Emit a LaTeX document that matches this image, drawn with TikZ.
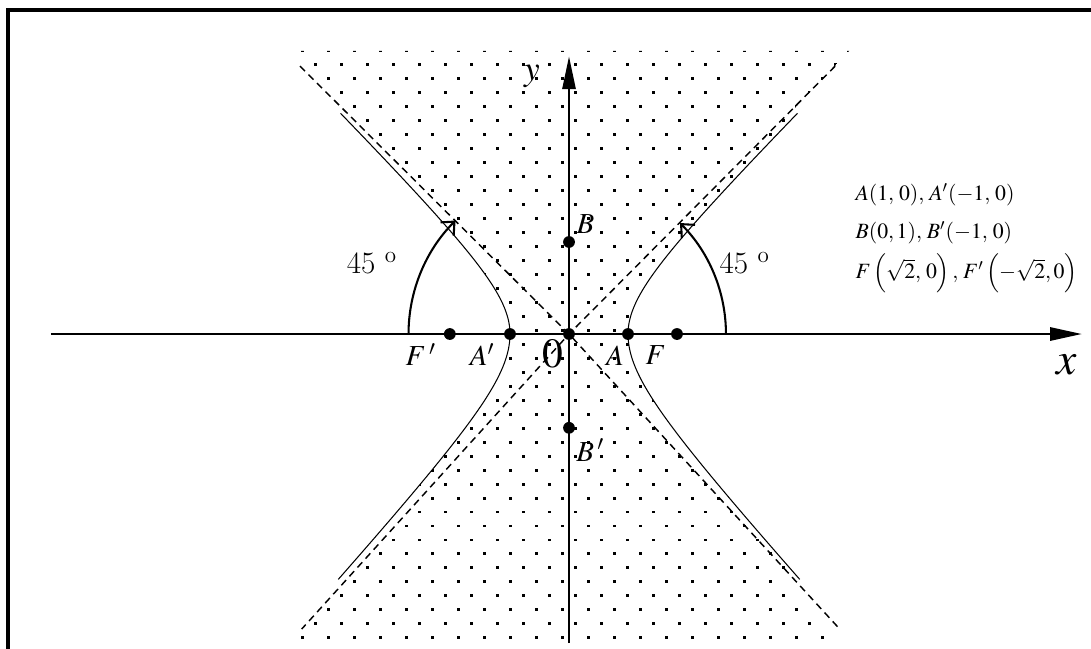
\documentclass[tikz,border=0pt]{standalone}
\usepackage{mathptmx}
\usetikzlibrary{arrows.meta}

\begin{document}
\begin{tikzpicture}[
  x=1cm,
  y=1cm,
  every node/.style={font=\fontsize{14}{16}\selectfont},
  axis/.style={line width=1.4pt, -{Triangle[length=0.54cm, width=0.22cm]}},
  asym/.style={line width=0.7pt, dash pattern=on 3.4pt off 2.4pt},
  branch/.style={line width=0.5pt},
  anglearc/.style={line width=1pt, -{Straight Barb[length=5pt, width=9pt]}},
  vertexpt/.style={circle, fill=black, inner sep=0pt, minimum size=0.2cm},
  frameline/.style={line width=2.1pt},
  coordtext/.style={anchor=west, inner sep=0pt, font=\fontsize{10.5}{12}\selectfont}
]
  \useasboundingbox (-9.644,-5.322) rectangle (8.847,5.661);

  % ---- frame, cut off at right and bottom ----
  \draw[frameline] (-9.508,-5.5) -- (-9.508,5.492) -- (9.0,5.492);

  % ---- dotted region between the branches ----
  \begin{scope}
    \clip (-4.75,4.8) -- (4.75,4.8) -- (3.75,3.75) -- (3.87,3.75)
      -- plot[domain=2.03:-2.04, samples=60, smooth] ({cosh(\x)}, {\x<0 ? 1.1*sinh(\x) : sinh(\x)})
      -- (3.78,-4.16) -- (4.72,-5.2) -- (-4.72,-5.2) -- (-3.78,-4.16)
      -- plot[domain=-2.04:2.03, samples=60, smooth] ({-cosh(\x)}, {\x<0 ? 1.1*sinh(\x) : sinh(\x)})
      -- (-3.75,3.75) -- cycle;
    \foreach \j [evaluate=\j as \yy using {-5.15+0.237*\j},
                 evaluate=\j as \xoff using {0.22*mod(\j,2)}] in {0,...,42}
      \foreach \i in {0,...,22}
        \fill ({-4.975+\xoff+0.44*\i}, {\yy-0.025}) rectangle ++(0.05,0.05);
  \end{scope}

  % ---- asymptotes ----
  \coordinate (O) at (0,0);
  \coordinate (UL) at (-4.56,4.54);
  \coordinate (UR) at (4.51,4.54);
  \coordinate (LL) at (-4.53,-5.0);
  \coordinate (LR) at (4.56,-4.97);
  \draw[asym] (UL) -- (O) -- (LR);
  \draw[asym] (UR) -- (O) -- (LL);

  % ---- hyperbola x^2-y^2=1 ----
  \draw[branch] plot[domain=-2.04:2.03, samples=80, smooth]
    ({cosh(\x)}, {\x<0 ? 1.1*sinh(\x) : sinh(\x)});
  \draw[branch] plot[domain=-2.04:2.03, samples=80, smooth]
    ({-cosh(\x)}, {\x<0 ? 1.1*sinh(\x) : sinh(\x)});

  % ---- axes ----
  \coordinate (xstart) at (-8.78,0);
  \coordinate (xend) at (8.695,0);
  \coordinate (ystart) at (0,-5.24);
  \coordinate (yend) at (0,4.71);
  \draw[axis] (xstart) -- (xend);
  \draw[axis, -{Triangle[length=0.56cm, width=0.22cm]}] (ystart) -- (yend);
  \node[font=\fontsize{22}{24}\selectfont] (xlab) at (8.44,-0.53) {$x$};
  \node[font=\fontsize{17}{19}\selectfont] (ylab) at (-0.63,4.37) {$y$};

  % ---- 45 degree arcs ----
  \coordinate (arcL) at (-2.72,0);
  \coordinate (arcR) at (2.66,0);
  \draw[anglearc] (arcL) arc[start angle=180, end angle=135, radius=2.72];
  \draw[anglearc] (arcR) arc[start angle=0, end angle=45, radius=2.66];
  \node[font=\fontsize{15}{17}\selectfont] (angL) at (-3.34,1.2) {45 \textsuperscript{o}};
  \node[font=\fontsize{15}{17}\selectfont] (angR) at (2.98,1.2) {45 \textsuperscript{o}};

  % ---- vertices and foci ----
  \node[vertexpt] (Fm) at (-2.02,0) {};
  \node[vertexpt] (Am) at (-1.0,0) {};
  \node[vertexpt] (Oo) at (O) {};
  \node[vertexpt] (Ap) at (1.0,0) {};
  \node[vertexpt] (Fp) at (1.83,0) {};
  \node[vertexpt] (Bp) at (0,1.56) {};
  \node[vertexpt] (Bm) at (0,-1.59) {};

  % ---- labels ----
  \node (Fmlab) at (-2.51,-0.35) {$F\,'$};
  \node (Amlab) at (-1.47,-0.35) {$A'$};
  \node[font=\fontsize{20}{22}\selectfont] (Olab) at (-0.28,-0.33) {$0$};
  \node (Aplab) at (0.78,-0.37) {$A$};
  \node (Fplab) at (1.47,-0.35) {$F$};
  \node (Bplab) at (0.28,1.87) {$B$};
  \node (Bmlab) at (0.36,-1.97) {$B\,'$};

  \node[coordtext] (line1) at (4.85,2.36) {$A(1,\,0),\,A'(-1,\,0)$};
  \node[coordtext] (line2) at (4.85,1.71) {$B(0,1),\,B'(-1,\,0)$};
  \node[coordtext] (line3) at (4.85,1.03)
    {$F\left(\sqrt{2},\,0\right),\,F'\left(-\sqrt{2},0\right)$};
\end{tikzpicture}
\end{document}
